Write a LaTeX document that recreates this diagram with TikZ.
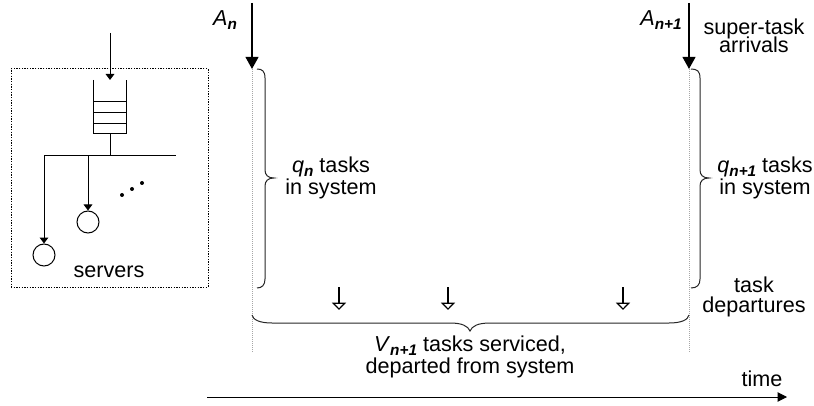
\documentclass[tikz,border=0pt]{standalone}
\usepackage{fontspec}
\setmainfont{Liberation Sans}
\usetikzlibrary{arrows.meta}
\newcommand{\sbs}[1]{\raisebox{-2.6pt}{\fontsize{11.5}{11.5}\selectfont\bfseries\itshape #1}}
\tikzset{
  x=0.75pt,y=-0.75pt,
  lab/.style={inner sep=0pt,align=center,font=\fontsize{16.2}{15.2}\selectfont},
  thin line/.style={line width=0.75pt,black},
  brace/.style={line width=0.75pt,black!85},
  small arrow/.style={line width=0.75pt,-{Triangle[length=4.5pt,width=6.5pt]}},
  big arrow/.style={line width=1.5pt,-{Triangle[length=9pt,width=9.5pt]}},
  hollow arrow/.style={line width=0.9pt,-{Triangle[open,length=5.5pt,width=10.5pt]}},
  time arrow/.style={line width=0.75pt,-{Triangle[length=7pt,width=7pt]}},
  guide/.style={line width=0.75pt,black!35,dash pattern=on 0.75pt off 0.75pt},
  server/.style={circle,draw,line width=0.75pt,minimum size=16.5pt,inner sep=0pt},
  dot/.style={circle,fill=black,minimum size=3pt,inner sep=0pt},
  sysbox/.style={draw,line width=0.75pt,dash pattern=on 1pt off 1pt,inner sep=0pt,minimum width=147.75pt,minimum height=163.5pt}
}
\begin{document}
\begin{tikzpicture}
\useasboundingbox (0,0) rectangle (814,406);
% server system
\node[sysbox] (box) at (109.5,178) {};
\coordinate (inS) at (110,33);
\coordinate (inE) at (110,80);
\draw[small arrow] (inS) -- (inE);
\coordinate (qTL) at (93.5,80);
\coordinate (qTR) at (126,80);
\coordinate (qBL) at (93.5,134);
\coordinate (qBR) at (126,134);
\coordinate (qB) at (110,134);
\draw[thin line] (qTL) -- (qBL) -- (qBR) -- (qTR);
\foreach \yy in {102,113,124}{\draw[thin line] (93.5,\yy) -- (126,\yy);}
\coordinate (busL) at (44,156);
\coordinate (busM) at (88,156);
\coordinate (busQ) at (110,156);
\coordinate (busR) at (176,156);
\draw[thin line] (qB) -- (busQ);
\draw[thin line] (busL) -- (busR);
\node[server] (s1) at (44,255) {};
\node[server] (s2) at (88,222) {};
\draw[small arrow] (busL) -- (s1.north);
\draw[small arrow] (busM) -- (s2.north);
\node[dot] (d1) at (122,195) {};
\node[dot] (d2) at (132,189) {};
\node[dot] (d3) at (142,183) {};
\node[lab] (servers) at (109,272) {servers};
% timeline
\coordinate (a1S) at (252,3);
\coordinate (a1E) at (252,69);
\coordinate (a2S) at (689,3);
\coordinate (a2E) at (689,69);
\coordinate (g1) at (252,352);
\coordinate (g2) at (689,352);
\draw[guide] (a1E) -- (g1);
\draw[guide] (a2E) -- (g2);
\draw[big arrow] (a1S) -- (a1E);
\draw[big arrow] (a2S) -- (a2E);
% braces
\draw[brace] (257,69) .. controls (262,69) and (265,71) .. (265,78) -- (265,170)
  .. controls (265,175) and (268,178) .. (274,178)
  .. controls (268,178) and (265,181) .. (265,186) -- (265,279)
  .. controls (265,285) and (262,288) .. (257,288);
\draw[brace] (691,69) .. controls (697,69) and (700,71) .. (700,78) -- (700,170)
  .. controls (700,175) and (703,178) .. (709,178)
  .. controls (703,178) and (700,181) .. (700,186) -- (700,279)
  .. controls (700,285) and (697,288) .. (691,288);
\draw[brace] (252,315) .. controls (253,320) and (260,323) .. (272,323) -- (450,323)
  .. controls (462,323) and (468,326) .. (470,331)
  .. controls (472,326) and (478,323) .. (490,323) -- (669,323)
  .. controls (681,323) and (688,320) .. (689,315);
% departures
\foreach \n/\xx in {p/339,q/448,r/623}{
  \coordinate (dep\n S) at (\xx,287);
  \coordinate (dep\n E) at (\xx,310);
  \draw[hollow arrow] (dep\n S) -- (dep\n E);
}
% time
\coordinate (tS) at (207,397);
\coordinate (tE) at (787,397);
\draw[time arrow] (tS) -- (tE);
% labels
\node[lab] (An) at (225,20) {\itshape A\sbs{n}};
\node[lab] (An1) at (661,20) {\itshape A\sbs{n+1}};
\node[lab] (sup) at (754,36) {super-task\\[-1.3pt]arrivals};
\node[lab] (qn) at (331,178) {\textit{q}\sbs{n} tasks\\[1pt]in system};
\node[lab] (qn1) at (765,178) {\textit{q}\sbs{n+1} tasks\\[1pt]in system};
\node[lab] (dep) at (754,297) {task\\departures};
\node[lab] (V) at (470,357) {\textit{V}\sbs{n+1} tasks serviced,\\[1pt]departed from system};
\node[lab] (time) at (762,379) {time};
\end{tikzpicture}
\end{document}
